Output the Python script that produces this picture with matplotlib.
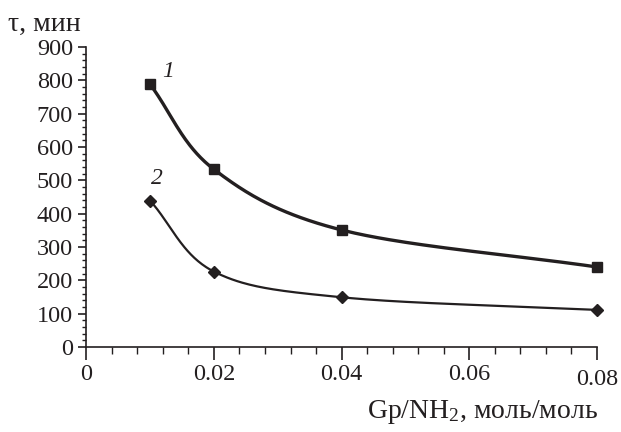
import numpy as np
import matplotlib
matplotlib.use("Agg")
import matplotlib.pyplot as plt
from matplotlib.ticker import MultipleLocator, FuncFormatter
import matplotlib.transforms as mtransforms

# data
ratio = [0.01, 0.02, 0.04, 0.08]
time_1 = [788, 533, 351, 240]
time_2 = [439, 226, 149, 111]
x_ticks = [0, 0.02, 0.04, 0.06, 0.08]
y_ticks = [0, 100, 200, 300, 400, 500, 600, 700, 800, 900]

plt.rcParams['font.family'] = ['Liberation Serif', 'DejaVu Serif']
plt.rcParams['mathtext.fontset'] = 'custom'
plt.rcParams['mathtext.rm'] = 'Liberation Serif'
plt.rcParams['mathtext.it'] = 'Liberation Serif:italic'

INK = '#231f20'


def smooth(x, y, n=60):
    '''
    Catmull-Rom spline through the points (like a smoothed line in a spreadsheet).
    '''
    p = np.column_stack([x, y]).astype(float)
    # scale so both axes weigh similarly
    scale = np.array([1 / 0.08, 1 / 900.0])
    q = p * scale
    q = np.vstack([2 * q[0] - q[1], q, 2 * q[-1] - q[-2]])
    out = []
    for i in range(1, len(q) - 2):
        p0, p1, p2, p3 = q[i - 1], q[i], q[i + 1], q[i + 2]
        t = np.linspace(0, 1, n)[:, None]
        seg = 0.5 * ((2 * p1) + (-p0 + p2) * t + (2 * p0 - 5 * p1 + 4 * p2 - p3) * t ** 2
                     + (-p0 + 3 * p1 - 3 * p2 + p3) * t ** 3)
        out.append(seg)
    out = np.vstack(out) / scale
    return out[:, 0], out[:, 1]


fig = plt.figure(figsize=(6.21, 4.32), dpi=100)
ax = fig.add_axes([0.139, 0.197, 0.822, 0.694])

sx, sy = smooth(ratio, time_1)
ax.plot(sx, sy, color=INK, lw=2.4, clip_on=False)
ax.plot(ratio, time_1, ls='none', marker='s', ms=7.2, color=INK, clip_on=False)

sx, sy = smooth(ratio, time_2)
ax.plot(sx, sy, color=INK, lw=1.6, clip_on=False)
ax.plot(ratio, time_2, ls='none', marker='D', ms=6.5, color=INK, clip_on=False)

ax.text(0.0128, 826, '1', fontsize=17, style='italic', ha='center', va='center', color=INK)
ax.text(0.0110, 507, '2', fontsize=17, style='italic', ha='center', va='center', color=INK)

ax.set_xlim(0, 0.08)
ax.set_ylim(0, 900)
ax.set_xticks(x_ticks)
ax.set_yticks(y_ticks)
ax.xaxis.set_minor_locator(MultipleLocator(0.004))
ax.yaxis.set_minor_locator(MultipleLocator(20))
ax.xaxis.set_major_formatter(FuncFormatter(lambda v, p: '0' if v == 0 else f'{v:.2f}'))

for side in ['top', 'right']:
    ax.spines[side].set_visible(False)
for side in ['left', 'bottom']:
    ax.spines[side].set_linewidth(1.2)
    ax.spines[side].set_color(INK)

ax.tick_params(which='both', direction='out', color=INK, labelsize=17.5, labelcolor=INK)
ax.tick_params(axis='x', which='major', length=9, width=1.2, pad=3)
ax.tick_params(axis='x', which='minor', length=5, width=1.0)
ax.tick_params(axis='y', which='major', length=5.5, width=1.2, pad=4)
ax.tick_params(axis='y', which='minor', length=3, width=1.0)

# last x tick label sits a little lower in the original
last = ax.get_xticklabels()[-1]
last.set_transform(last.get_transform() + mtransforms.ScaledTranslation(0, -5 / 100, fig.dpi_scale_trans))

fig.text(8 / 621, 1 - 31 / 432, 'τ, мин', fontsize=20, color=INK, ha='left', va='baseline')
fig.text(598 / 621, 1 - 418 / 432, 'Gp/NH$_2$, моль/моль', fontsize=20, color=INK,
         ha='right', va='baseline')

fig.savefig('out.png', dpi=100)
